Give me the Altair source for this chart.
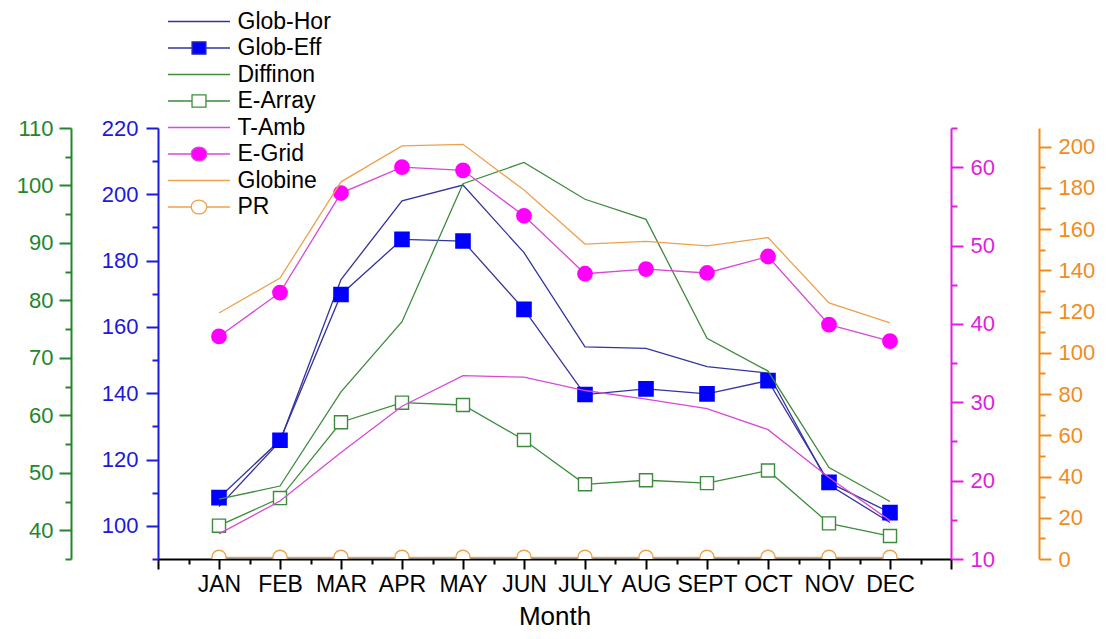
import altair as alt
import pandas as pd

# ---------------- data ----------------
MONTHS = ["JAN", "FEB", "MAR", "APR", "MAY", "JUN", "JULY", "AUG", "SEPT", "OCT", "NOV", "DEC"]
MONTH_POS = [1, 2, 3, 4, 5, 6, 7, 8, 9, 10, 11, 12]

GLOB_HOR = [105.8, 125.5, 174.3, 198.0, 202.8, 182.4, 154.0, 153.5, 148.0, 146.1, 112.4, 101.0]
GLOB_EFF = [108.5, 125.8, 169.8, 186.4, 185.9, 165.3, 139.6, 141.3, 139.8, 143.8, 113.1, 104.0]
DIFFINON = [45.4, 47.7, 64.1, 76.3, 100.3, 104.0, 97.6, 94.1, 73.4, 67.7, 50.9, 45.0]
E_ARRAY = [40.8, 45.6, 58.8, 62.2, 61.8, 55.7, 48.0, 48.7, 48.2, 50.4, 41.2, 39.0]
T_AMB = [13.2, 17.4, 23.6, 29.5, 33.4, 33.2, 31.5, 30.4, 29.2, 26.5, 20.4, 14.9]
E_GRID = [38.4, 44.0, 56.7, 60.0, 59.6, 53.8, 46.4, 47.0, 46.5, 48.6, 39.9, 37.8]
GLOBINE = [119.3, 136.2, 182.9, 200.3, 201.1, 178.9, 152.7, 154.0, 151.8, 155.9, 124.2, 114.5]
PR = [0.8, 0.8, 0.8, 0.8, 0.8, 0.8, 0.8, 0.8, 0.8, 0.8, 0.8, 0.8]

SERIES = ["Glob-Hor", "Glob-Eff", "Diffinon", "E-Array", "T-Amb", "E-Grid", "Globine", "PR"]

X_TICKS = [0, 0.5, 1, 1.5, 2, 2.5, 3, 3.5, 4, 4.5, 5, 5.5, 6, 6.5, 7, 7.5, 8, 8.5,
           9, 9.5, 10, 10.5, 11, 11.5, 12, 12.5, 13]
BLUE_TICKS = [90, 100, 110, 120, 130, 140, 150, 160, 170, 180, 190, 200, 210, 220]
GREEN_TICKS = [35, 40, 45, 50, 55, 60, 65, 70, 75, 80, 85, 90, 95, 100, 105, 110]
MAG_TICKS = [10, 15, 20, 25, 30, 35, 40, 45, 50, 55, 60, 65]
ORANGE_TICKS = [0, 10, 20, 30, 40, 50, 60, 70, 80, 90, 100, 110, 120, 130, 140, 150,
                160, 170, 180, 190, 200]

# ---------------- styles ----------------
FONT = "Liberation Sans"
NAVY = "#34349e"
BLUE = "#0000ff"
BLUE_AX = "#1a1ad8"
GREEN = "#3d8c3d"
GREEN_AX = "#23862b"
MAG_LINE = "#d64ad6"
MAG = "#ff00ff"
MAG_AX = "#e01ee0"
ORANGE = "#eda24f"
ORANGE_AX = "#f08c1e"

LEG_STROKES = [NAVY, NAVY, GREEN, GREEN, MAG_LINE, MAG_LINE, ORANGE, ORANGE]
LEG_FILLS = ["transparent", BLUE, "transparent", "white", "transparent", MAG, "transparent", "white"]
P_LINE = "M-4,0H4"
P_SQ = "M-4,0H-0.9M0.9,0H4M-0.9,-0.8H0.9V0.8H-0.9Z"
P_CIRC = "M-4,0H-1M1,0H4M-1,0A1,0.9 0 1,0 1,0A1,0.9 0 1,0 -1,0Z"
LEG_PATHS = [P_LINE, P_SQ, P_LINE, P_SQ, P_LINE, P_CIRC, P_LINE, P_CIRC]


def long_frame(names, values):
    rows = []
    for n, vals in zip(names, values):
        for m, lab, v in zip(MONTH_POS, MONTHS, vals):
            rows.append({"m": m, "month": lab, "series": n, "value": v})
    return pd.DataFrame(rows)


month_arr = "[" + ",".join("'" + m + "'" for m in MONTHS) + "]"
x_label_expr = ("(datum.value % 1 === 0 && datum.value >= 1 && datum.value <= 12) ? "
                + month_arr + "[datum.value - 1] : ''")

X = alt.X(
    "m:Q",
    scale=alt.Scale(domain=[0, 13], nice=False, zero=False),
    axis=alt.Axis(
        values=X_TICKS, labelExpr=x_label_expr, title="Month", grid=False,
        tickSize={"condition": {"test": "datum.value % 1 === 0", "value": 10}, "value": 5},
        domainColor="black", tickColor="black", labelColor="black", titleColor="black",
        domainWidth=2, tickWidth=2, labelFont=FONT, labelFontSize=23, labelPadding=4,
        labelOverlap=False, labelFlush=False, labelAngle=0,
        titleFont=FONT, titleFontSize=26, titleFontWeight="normal", titlePadding=7,
    ),
)


def y_enc(domain, ticks, major, color, orient, offset, pad):
    return alt.Y(
        "value:Q",
        scale=alt.Scale(domain=domain, nice=False, zero=False),
        axis=alt.Axis(
            orient=orient, offset=offset, values=ticks, title=None, grid=False,
            labelExpr="datum.value % " + str(major) + " === 0 ? datum.label : ''",
            tickSize={"condition": {"test": "datum.value % " + str(major) + " === 0", "value": 12},
                      "value": 6},
            domainColor=color, tickColor=color, labelColor=color,
            domainWidth=2, tickWidth=2, labelFont=FONT, labelFontSize=22,
            labelPadding=pad, labelOverlap=False, labelFlush=False,
        ),
    )


# blue group
blue_df = long_frame(["Glob-Hor", "Glob-Eff"], [GLOB_HOR, GLOB_EFF])
yb = y_enc([90, 220], BLUE_TICKS, 20, BLUE_AX, "left", 0, 8)
blue = alt.layer(
    alt.Chart(blue_df).mark_line(color=NAVY, strokeWidth=1.3).encode(x=X, y=yb, detail="series:N"),
    alt.Chart(blue_df).transform_filter("datum.series === 'Glob-Eff'").mark_point(
        shape="square", filled=True, fill=BLUE, stroke=BLUE, size=185, opacity=1
    ).encode(x=X, y=yb),
)

# green group
green_df = long_frame(["Diffinon", "E-Array"], [DIFFINON, E_ARRAY])
yg = y_enc([35, 110], GREEN_TICKS, 10, GREEN_AX, "left", 87, 6)
green = alt.layer(
    alt.Chart(green_df).mark_line(color=GREEN, strokeWidth=1.3).encode(x=X, y=yg, detail="series:N"),
    alt.Chart(green_df).transform_filter("datum.series === 'E-Array'").mark_point(
        shape="square", filled=True, fill="white", stroke=GREEN, strokeWidth=1.4, size=170, opacity=1
    ).encode(x=X, y=yg),
)

# magenta group
mag_df = long_frame(["T-Amb", "E-Grid"], [T_AMB, E_GRID])
ym = y_enc([10, 65], MAG_TICKS, 10, MAG_AX, "right", 0, 7)
mag = alt.layer(
    alt.Chart(mag_df).mark_line(color=MAG_LINE, strokeWidth=1.3).encode(x=X, y=ym, detail="series:N"),
    alt.Chart(mag_df).transform_filter("datum.series === 'E-Grid'").mark_point(
        shape="circle", filled=True, fill=MAG, stroke=MAG, size=190, opacity=1
    ).encode(x=X, y=ym),
)

# orange group
or_df = long_frame(["Globine", "PR"], [GLOBINE, PR])
yo = y_enc([0, 209], ORANGE_TICKS, 20, ORANGE_AX, "right", 88, 7)
orange = alt.layer(
    alt.Chart(or_df).mark_line(color=ORANGE, strokeWidth=1.3, clip=True).encode(
        x=X, y=yo, detail="series:N"),
    alt.Chart(or_df).transform_filter("datum.series === 'PR'").mark_point(
        shape="circle", filled=True, fill="white", stroke=ORANGE, strokeWidth=1.4, size=200,
        opacity=1, clip=True
    ).encode(x=X, y=yo),
)

# legend (scales only, no visible marks)
legend_cfg = dict(
    orient="none", legendX=10, legendY=-118, title=None, padding=0,
    labelFont=FONT, labelFontSize=23, labelColor="black",
    symbolSize=240, symbolStrokeWidth=1.3, symbolOffset=19.5, labelOffset=27,
    rowPadding=2.5, symbolFillColor="white", symbolStrokeColor="black",
)
leg = alt.Chart(pd.DataFrame({"series": SERIES})).transform_filter("false").mark_point(
    filled=True, opacity=1
).encode(
    shape=alt.Shape("series:N", scale=alt.Scale(domain=SERIES, range=LEG_PATHS),
                    legend=alt.Legend(**legend_cfg)),
    stroke=alt.Stroke("series:N", scale=alt.Scale(domain=SERIES, range=LEG_STROKES),
                      legend=alt.Legend(**legend_cfg)),
    fill=alt.Fill("series:N", scale=alt.Scale(domain=SERIES, range=LEG_FILLS),
                  legend=alt.Legend(**legend_cfg)),
)

chart = alt.layer(blue, green, mag, orange, leg).resolve_scale(
    y="independent"
).properties(
    width=793, height=431,
    autosize=alt.AutoSizeParams(type="none"),
    padding={"left": 150, "top": 120, "right": 149, "bottom": 70},
    background="white",
).configure_view(stroke=None)

chart.save("out.html", embed_options={"renderer": "svg", "actions": False})
